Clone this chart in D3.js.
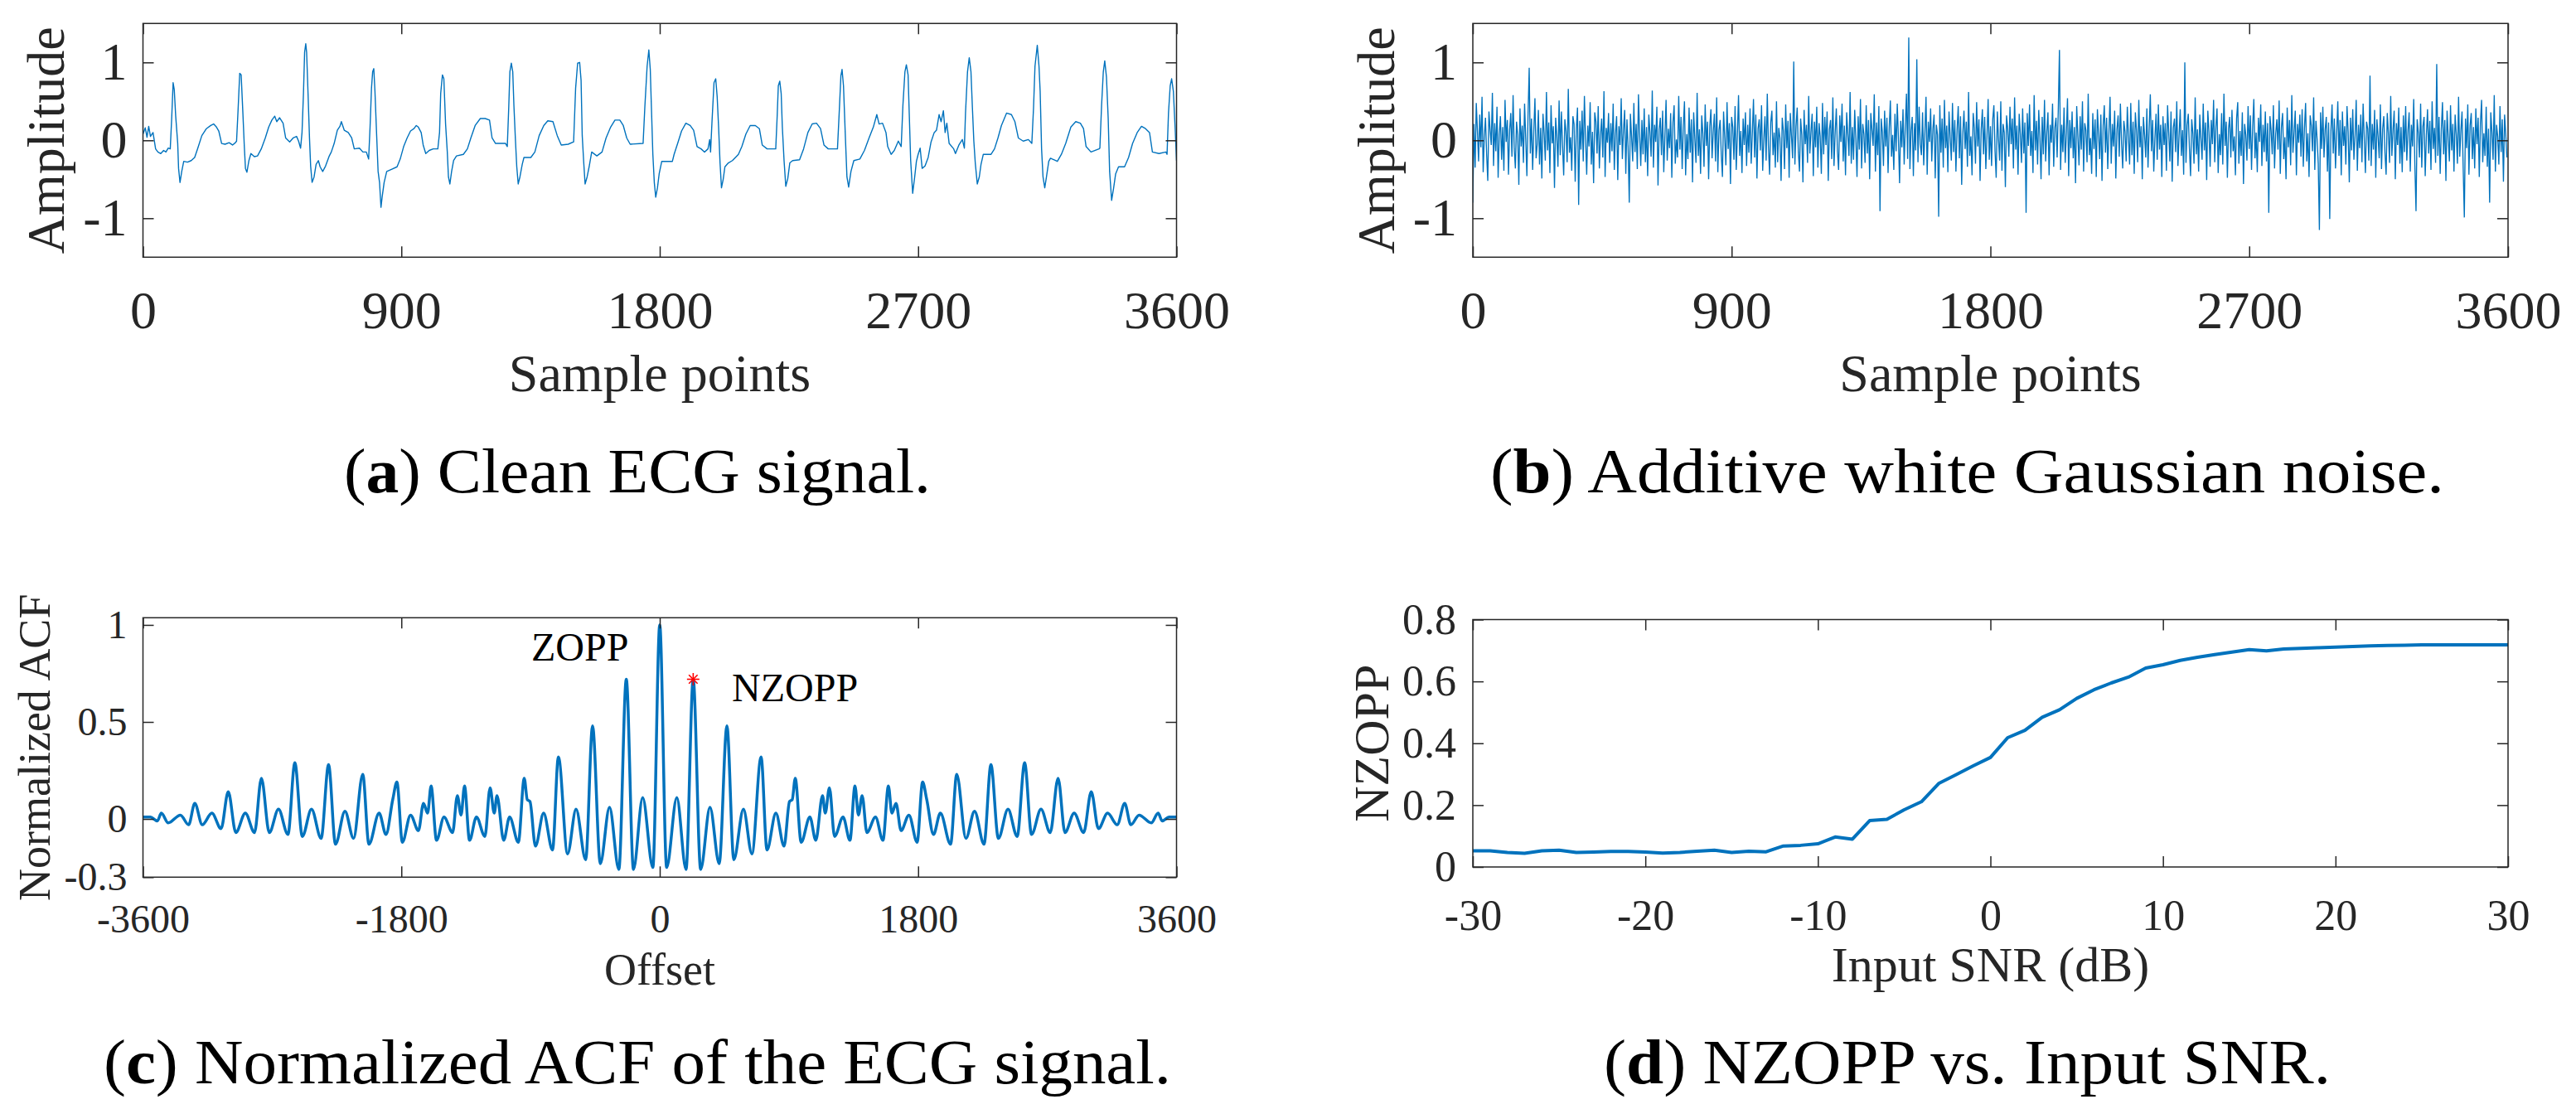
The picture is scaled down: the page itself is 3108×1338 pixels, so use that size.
<!DOCTYPE html>
<html><head><meta charset="utf-8">
<script src="https://cdn.jsdelivr.net/npm/d3@7/dist/d3.min.js"></script>
<style>
body{margin:0;background:#fff}
svg{display:block}
</style>
</head><body>
<svg id="fig" width="3108" height="1338"></svg>
<script>
// ---------------- DATA ----------------
// (a) clean ECG: [sample, amplitude] vertices
const ecgPoints = [[0,0.08],[8,0.16],[14,0.04],[20,0.18],[26,0.05],[35,0.1],[44,-0.11],[52,-0.15],[62,-0.17],[72,-0.13],[80,-0.15],[88,-0.1],[95,-0.11],[100,0.28],[105,0.74],[109,0.65],[114,0.31],[121,-0.04],[124,-0.36],[129,-0.54],[135,-0.40],[142,-0.27],[155,-0.28],[168,-0.26],[180,-0.22],[191,-0.1],[205,0.06],[221,0.15],[236,0.19],[246,0.21],[256,0.17],[264,0.12],[274,-0.04],[286,-0.05],[300,-0.03],[312,-0.06],[322,-0.03],[326,-0.01],[331,0.37],[337,0.86],[342,0.84],[348,0.35],[353,-0.08],[357,-0.36],[362,-0.41],[369,-0.26],[376,-0.17],[388,-0.21],[399,-0.2],[412,-0.11],[426,0.03],[438,0.17],[449,0.26],[459,0.31],[466,0.24],[476,0.29],[488,0.22],[497,0.03],[511,-0.02],[523,0.03],[535,0.05],[542,-0.01],[549,-0.1],[554,0.10],[559,0.6],[563,1.13],[567,1.24],[570,1.13],[575,0.6],[580,0.03],[584,-0.33],[589,-0.54],[596,-0.47],[603,-0.31],[611,-0.26],[617,-0.34],[626,-0.4],[636,-0.33],[649,-0.2],[656,-0.15],[666,-0.04],[677,0.13],[686,0.18],[691,0.24],[701,0.13],[715,0.1],[727,0.03],[736,-0.11],[754,-0.1],[766,-0.15],[778,-0.15],[786,-0.24],[791,0.17],[796,0.67],[800,0.88],[804,0.92],[808,0.63],[814,0.06],[819,-0.4],[824,-0.54],[829,-0.86],[833,-0.73],[840,-0.54],[849,-0.4],[867,-0.37],[885,-0.34],[896,-0.24],[908,-0.08],[920,0.03],[932,0.12],[944,0.15],[952,0.19],[959,0.17],[969,0.1],[976,-0.06],[985,-0.17],[997,-0.13],[1011,-0.11],[1027,-0.11],[1033,0.1],[1037,0.6],[1043,0.84],[1048,0.79],[1054,0.21],[1060,-0.15],[1064,-0.47],[1069,-0.56],[1075,-0.4],[1082,-0.26],[1092,-0.2],[1116,-0.18],[1130,-0.11],[1142,0.03],[1157,0.19],[1175,0.28],[1192,0.28],[1207,0.26],[1216,0.03],[1228,-0.04],[1263,-0.04],[1269,-0.08],[1274,0.42],[1278,0.88],[1283,0.99],[1288,0.88],[1292,0.45],[1297,0.03],[1302,-0.34],[1307,-0.56],[1313,-0.47],[1321,-0.31],[1327,-0.22],[1351,-0.22],[1365,-0.15],[1380,0.06],[1396,0.19],[1410,0.25],[1428,0.24],[1443,0.06],[1457,-0.06],[1481,-0.05],[1500,-0.02],[1507,0.67],[1514,0.99],[1521,1.0],[1526,0.77],[1530,0.06],[1535,-0.27],[1540,-0.56],[1547,-0.47],[1554,-0.34],[1563,-0.15],[1581,-0.2],[1599,-0.15],[1613,0.03],[1629,0.17],[1644,0.26],[1661,0.26],[1673,0.19],[1685,0.03],[1697,-0.05],[1742,-0.04],[1748,0.42],[1756,0.95],[1762,1.16],[1767,0.91],[1771,0.42],[1776,-0.18],[1781,-0.54],[1786,-0.73],[1792,-0.61],[1798,-0.43],[1807,-0.27],[1844,-0.27],[1850,-0.18],[1864,-0.02],[1876,0.12],[1891,0.22],[1906,0.19],[1918,0.13],[1930,-0.08],[1944,-0.11],[1956,-0.15],[1968,-0.11],[1974,0.01],[1977,-0.15],[1982,0.24],[1989,0.74],[1995,0.79],[2000,0.56],[2005,0.17],[2010,-0.29],[2015,-0.61],[2021,-0.5],[2027,-0.34],[2039,-0.29],[2053,-0.26],[2074,-0.18],[2086,-0.08],[2100,0.08],[2115,0.19],[2133,0.19],[2147,0.15],[2157,-0.06],[2174,-0.11],[2204,-0.11],[2209,0.31],[2213,0.7],[2218,0.76],[2223,0.6],[2227,0.17],[2233,-0.26],[2239,-0.59],[2246,-0.49],[2253,-0.29],[2263,-0.26],[2287,-0.25],[2301,-0.11],[2316,0.1],[2331,0.21],[2346,0.22],[2360,0.15],[2372,-0.06],[2387,-0.11],[2419,-0.11],[2425,0.35],[2431,0.83],[2435,0.91],[2440,0.7],[2446,0.1],[2452,-0.47],[2458,-0.6],[2466,-0.4],[2476,-0.26],[2497,-0.24],[2513,-0.13],[2529,0.03],[2544,0.17],[2556,0.33],[2564,0.21],[2576,0.22],[2588,0.1],[2594,-0.08],[2606,-0.18],[2617,-0.13],[2631,-0.01],[2641,-0.08],[2647,0.45],[2654,0.88],[2659,0.97],[2665,0.84],[2669,0.35],[2674,-0.26],[2681,-0.68],[2688,-0.47],[2694,-0.27],[2700,-0.18],[2707,-0.1],[2714,-0.36],[2724,-0.33],[2735,-0.22],[2745,-0.02],[2756,0.1],[2764,0.13],[2773,0.33],[2780,0.24],[2788,0.38],[2794,0.1],[2800,0.22],[2808,-0.04],[2824,-0.11],[2830,-0.17],[2842,-0.06],[2854,0.01],[2861,-0.1],[2865,0.35],[2872,0.88],[2878,1.06],[2884,0.88],[2889,0.42],[2894,-0.01],[2899,-0.29],[2906,-0.56],[2913,-0.47],[2919,-0.31],[2927,-0.18],[2954,-0.18],[2966,-0.11],[2978,0.03],[2990,0.19],[3008,0.35],[3025,0.33],[3037,0.24],[3049,0.03],[3066,-0.01],[3084,0.01],[3096,-0.04],[3102,0.42],[3107,0.95],[3115,1.22],[3121,0.95],[3125,0.63],[3130,-0.11],[3135,-0.47],[3141,-0.61],[3147,-0.47],[3155,-0.27],[3161,-0.23],[3185,-0.27],[3199,-0.18],[3214,-0.04],[3232,0.17],[3249,0.24],[3265,0.22],[3276,0.15],[3285,-0.08],[3302,-0.15],[3330,-0.11],[3333,-0.1],[3339,0.45],[3345,0.88],[3350,1.02],[3356,0.81],[3362,0.28],[3367,-0.4],[3374,-0.77],[3381,-0.61],[3388,-0.43],[3398,-0.34],[3419,-0.34],[3433,-0.22],[3447,-0.04],[3463,0.1],[3478,0.18],[3492,0.15],[3506,0.1],[3516,-0.15],[3539,-0.17],[3563,-0.15],[3567,-0.18],[3572,0.35],[3578,0.7],[3583,0.79],[3589,0.63],[3595,0.17],[3600,-0.26]];

// (b) additive white Gaussian noise: one value every 4 samples
const noiseStep = 4;
const noiseValues = [
-0.80,0.21,-0.35,0.48,0.12,-0.27,0.33,-0.09,0.56,-0.41,0.05,0.29,-0.18,-0.52,0.37,0.14,-0.06,0.61,-0.33,0.22,-0.14,0.43,-0.48,0.08,0.31,-0.25,0.17,-0.39,0.52,-0.02,
0.26,-0.44,0.13,0.35,-0.21,0.58,-0.11,-0.36,0.24,0.07,-0.57,0.41,-0.08,0.19,-0.29,0.47,0.02,-0.46,0.32,0.93,-0.17,0.28,-0.38,0.11,0.54,-0.23,-0.05,0.39,-0.31,0.16,
-0.49,0.34,0.09,-0.26,0.62,-0.13,0.23,-0.42,0.45,-0.04,0.18,-0.61,0.29,0.06,-0.34,0.51,-0.19,0.37,-0.07,-0.45,0.27,0.12,-0.28,0.66,-0.16,0.04,-0.39,0.31,0.21,-0.53,
0.15,0.42,-0.83,0.25,-0.12,0.38,-0.27,0.57,0.03,-0.44,0.19,-0.08,0.49,-0.31,0.11,-0.55,0.36,0.24,-0.17,0.44,-0.36,0.07,0.28,-0.22,0.63,-0.47,0.16,-0.03,0.35,-0.29,
0.22,-0.14,0.47,-0.38,0.09,0.31,-0.51,0.18,-0.06,0.54,-0.24,0.13,0.39,-0.43,0.27,-0.09,-0.80,0.34,0.05,-0.27,0.48,-0.15,0.21,-0.37,0.59,0.08,-0.33,0.26,-0.18,0.41,
-0.28,0.17,-0.46,0.33,0.1,-0.21,0.64,-0.35,0.2,-0.02,0.43,-0.58,0.14,0.29,-0.19,0.38,-0.41,0.06,0.52,-0.26,0.15,-0.1,0.35,-0.48,0.23,0.45,-0.3,0.01,-0.22,0.57,
-0.12,0.3,-0.37,0.19,0.5,-0.45,0.08,-0.24,0.42,-0.16,0.27,-0.54,0.36,0.03,-0.29,0.61,-0.2,0.14,-0.43,0.32,0.09,-0.34,0.46,-0.07,0.24,-0.5,0.18,0.4,-0.23,0.11,
0.34,-0.27,0.55,-0.41,0.13,0.26,-0.18,-0.47,0.37,0.04,-0.32,0.49,-0.11,0.22,-0.56,0.3,0.17,-0.25,0.44,-0.38,0.07,0.58,-0.2,0.12,-0.42,0.28,-0.06,0.36,-0.33,0.2,
-0.16,0.41,-0.3,0.09,0.53,-0.22,0.33,-0.49,0.15,0.27,-0.13,0.45,-0.39,0.02,0.31,-0.26,0.6,-0.08,-0.44,0.23,0.38,-0.19,0.1,-0.35,0.5,-0.28,0.16,0.03,-0.52,0.29,
0.12,-0.37,0.46,-0.1,0.25,-0.48,0.35,0.06,-0.23,1.01,-0.31,0.18,0.42,-0.15,-0.4,0.28,0.07,-0.54,0.39,-0.05,0.2,-0.29,0.57,-0.17,0.11,0.34,-0.46,0.24,-0.09,0.43,
-0.35,0.22,0.05,-0.43,0.48,-0.18,0.3,-0.06,0.37,-0.52,0.14,0.26,-0.24,0.55,-0.33,0.09,0.41,-0.14,-0.38,0.32,-0.02,0.47,-0.27,0.19,-0.45,0.36,0.08,-0.2,0.62,-0.3,
0.17,-0.25,0.39,0.02,-0.47,0.31,-0.12,0.53,-0.36,0.21,0.08,-0.29,0.45,-0.17,0.26,-0.5,0.35,0.13,-0.07,0.59,-0.4,0.23,-0.19,0.44,-0.91,0.28,0.11,-0.33,0.38,-0.08,
0.29,-0.42,0.16,0.51,-0.21,0.07,-0.38,0.34,-0.14,0.47,0.03,-0.55,0.25,-0.09,0.4,-0.31,0.18,0.6,-0.24,1.32,-0.37,0.12,0.3,-0.46,0.22,-0.13,1.04,-0.28,0.43,-0.05,
-0.19,0.36,-0.32,0.1,0.56,-0.44,0.24,-0.02,0.41,-0.27,0.15,0.33,-0.49,0.2,0.07,-0.98,0.45,-0.16,0.28,-0.35,0.52,-0.1,0.19,-0.41,0.37,0.04,-0.26,0.48,-0.15,0.26,
-0.4,0.13,0.44,-0.23,0.31,-0.57,0.09,0.38,-0.11,0.24,-0.34,0.62,-0.2,0.05,-0.45,0.35,0.16,-0.3,0.49,-0.08,0.27,-0.52,0.14,0.4,-0.18,0.3,-0.37,0.06,0.53,-0.25,
0.18,-0.33,0.27,0.45,-0.14,-0.48,0.37,0.02,-0.26,0.5,-0.39,0.21,0.1,-0.6,0.32,0.15,-0.21,0.43,-0.05,0.28,-0.36,0.55,-0.12,0.19,-0.44,0.34,0.08,-0.29,0.41,-0.17,
0.23,-0.93,0.35,-0.07,0.46,-0.2,0.12,-0.42,0.58,-0.13,0.25,-0.31,0.39,0.04,-0.5,0.3,-0.18,0.52,-0.27,0.11,0.36,-0.45,0.2,-0.03,0.47,-0.34,0.16,0.29,-0.22,0.4,
1.16,-0.38,0.2,-0.15,0.42,-0.29,0.09,0.54,-0.46,0.26,-0.1,0.37,-0.23,0.17,-0.55,0.44,0.06,-0.32,0.31,-0.12,0.5,-0.4,0.22,0.13,-0.28,0.6,-0.19,0.03,-0.43,0.35,
-0.11,0.27,-0.47,0.4,0.08,-0.24,0.33,-0.52,0.19,0.45,-0.16,0.29,-0.37,0.1,0.56,-0.3,0.21,-0.08,0.38,-0.49,0.14,0.32,-0.21,0.47,-0.04,-0.36,0.25,0.11,-0.27,0.43,
0.05,-0.31,0.48,-0.19,0.24,-0.43,0.36,0.12,-0.28,0.52,-0.09,0.18,-0.5,0.3,0.07,-0.22,0.41,-0.35,0.15,0.59,-0.14,0.26,-0.4,0.03,0.34,-0.25,0.46,-0.12,0.2,-0.47,
0.31,-0.06,0.22,-0.39,0.45,0.1,-0.27,0.37,-0.53,0.16,0.28,-0.15,0.5,-0.33,0.06,0.4,-0.2,0.13,-0.44,1.0,-0.29,0.19,0.34,-0.1,-0.46,0.27,0.09,-0.3,0.55,-0.18,
0.14,-0.4,0.33,0.02,-0.25,0.47,-0.13,0.23,-0.51,0.38,0.11,-0.34,0.26,-0.05,0.52,-0.28,0.17,0.41,-0.42,0.08,-0.19,0.35,-0.31,0.6,-0.07,0.24,-0.48,0.15,0.3,-0.22,
0.39,-0.14,0.05,-0.45,0.28,0.49,-0.3,0.12,-0.2,0.36,-0.56,0.21,0.07,-0.26,0.44,-0.11,0.32,-0.38,0.18,0.53,-0.23,0.1,-0.41,0.29,-0.02,0.46,-0.33,0.2,-0.15,0.37,
-0.27,0.22,-0.93,0.31,0.13,-0.18,0.45,-0.36,0.08,0.27,-0.12,0.51,-0.43,0.17,0.35,-0.24,0.04,-0.5,0.42,-0.09,0.26,-0.32,0.58,-0.16,0.1,0.38,-0.45,0.21,-0.03,0.33,
-0.21,0.4,-0.34,0.16,0.48,-0.27,0.09,-0.47,0.32,0.19,-0.14,0.55,-0.38,0.25,0.02,-0.3,-1.15,0.36,-0.11,0.43,-0.22,0.14,0.3,-0.4,0.23,-1.01,0.12,0.46,-0.17,0.28,
-0.36,0.08,0.5,-0.2,0.26,-0.45,0.37,-0.07,0.18,-0.31,0.44,0.11,-0.54,0.29,-0.13,0.4,-0.25,0.06,0.52,-0.39,0.2,-0.1,0.33,-0.28,0.47,0.03,-0.42,0.24,0.15,-0.26,
0.83,-0.33,0.21,-0.12,0.39,-0.48,0.27,0.05,-0.23,0.46,-0.37,0.15,0.31,-0.16,-0.44,0.35,0.09,-0.29,0.57,-0.2,0.13,0.38,-0.5,0.22,-0.06,0.42,-0.3,0.17,-0.41,0.32,
-0.15,0.44,-0.26,0.12,0.36,-0.4,0.2,-0.08,0.53,-0.32,-0.91,0.27,0.1,-0.22,0.47,-0.35,0.18,0.3,-0.46,0.06,0.4,-0.17,0.25,-0.38,0.5,-0.11,0.16,-0.29,0.98,-0.2,
0.3,-0.43,0.14,0.49,-0.18,0.26,-0.52,0.38,0.04,-0.27,0.45,-0.13,0.21,-0.4,0.33,0.08,-0.3,0.56,-0.21,0.12,0.37,-0.35,-0.99,0.28,-0.1,0.46,-0.44,0.19,0.35,-0.24,
0.17,-0.36,0.41,-0.05,0.29,-0.47,0.22,0.52,-0.28,0.09,-0.2,0.43,-0.34,0.15,-0.8,0.36,0.11,-0.25,0.58,-0.4,0.2,0.05,-0.31,0.44,-0.15,0.27,-0.53,0.33,0.08,-0.22
];

// (c) normalized ACF, non-negative offsets (the ACF is symmetric): [offset, value]
const acfHalf = [[0,1.0],[48,-0.25],[119,0.11],[183,-0.26],[233,0.72],[285,-0.26],[350,0.06],[414,-0.23],[468,0.48],[516,-0.21],[583,0.05],[642,-0.18],[706,0.32],[747,-0.16],[809,0.03],[866,-0.14],[904,0.09],[923,0.10],[944,0.21],[985,-0.12],[1046,0.01],[1087,-0.11],[1134,0.12],[1153,0.03],[1182,0.16],[1218,-0.09],[1277,0.01],[1325,-0.11],[1360,0.17],[1384,0.02],[1410,0.12],[1443,-0.07],[1503,0.01],[1555,-0.11],[1593,0.17],[1617,0.03],[1646,0.08],[1681,-0.06],[1736,0.02],[1793,-0.12],[1831,0.19],[1860,0.10],[1907,-0.08],[1955,0.03],[2026,-0.13],[2069,0.23],[2133,-0.10],[2193,0.04],[2259,-0.13],[2307,0.28],[2359,-0.10],[2426,0.05],[2490,-0.09],[2542,0.29],[2590,-0.08],[2656,0.05],[2720,-0.07],[2775,0.21],[2823,-0.07],[2887,0.03],[2953,-0.07],[3006,0.14],[3056,-0.05],[3120,0.03],[3187,-0.03],[3239,0.08],[3282,-0.03],[3339,0.02],[3424,-0.02],[3472,0.03],[3500,-0.01],[3548,0.01],[3599,0.01]];
const nzoppPoint = [233, 0.72];
const acfAnnotations = [{text:"ZOPP", x:-895, y:0.817},{text:"NZOPP", x:503, y:0.608}];

// (d) NZOPP vs input SNR
const snrDb = [-30,-29,-28,-27,-26,-25,-24,-23,-22,-21,-20,-19,-18,-17,-16,-15,-14,-13,-12,-11,-10,-9,-8,-7,-6,-5,-4,-3,-2,-1,0,1,2,3,4,5,6,7,8,9,10,11,12,13,14,15,16,17,18,19,20,21,22,23,24,25,26,27,28,29,30];
const nzoppValues = [0.052,0.052,0.047,0.044,0.052,0.054,0.047,0.048,0.050,0.050,0.048,0.045,0.047,0.051,0.054,0.047,0.051,0.049,0.068,0.070,0.075,0.097,0.090,0.150,0.154,0.185,0.211,0.270,0.298,0.327,0.354,0.418,0.442,0.484,0.508,0.545,0.573,0.595,0.614,0.643,0.654,0.668,0.678,0.687,0.695,0.703,0.699,0.705,0.707,0.709,0.711,0.713,0.715,0.716,0.717,0.718,0.718,0.718,0.718,0.718,0.718];

// tick values / labels
const sampleTicks = [0,900,1800,2700,3600];
const sampleTickLabels = ["0","900","1800","2700","3600"];
const ampTicks = [-1,0,1];
const ampTickLabels = ["-1","0","1"];
const offsetTicks = [-3600,-1800,0,1800,3600];
const offsetTickLabels = ["-3600","-1800","0","1800","3600"];
const acfTicks = [-0.3,0,0.5,1];
const acfTickLabels = ["-0.3","0","0.5","1"];
const snrTicks = [-30,-20,-10,0,10,20,30];
const snrTickLabels = ["-30","-20","-10","0","10","20","30"];
const nzTicks = [0,0.2,0.4,0.6,0.8];
const nzTickLabels = ["0","0.2","0.4","0.6","0.8"];

// ---------------- DRAWING ----------------
const FONT = '"Liberation Serif","Times New Roman",serif';
const AX = '#262626';
const BLUE = '#0072BD';
const svg = d3.select('#fig');
svg.append('rect').attr('width',3108).attr('height',1338).attr('fill','#fff');

let clipId = 0;
function panel(cfg) {
  const x = d3.scaleLinear().domain(cfg.xDomain).range([cfg.box.x0, cfg.box.x1]);
  const y = d3.scaleLinear().domain(cfg.yDomain).range([cfg.box.y1, cfg.box.y0]);
  const g = svg.append('g');
  const id = 'clip' + (clipId++);
  g.append('clipPath').attr('id', id).append('rect')
    .attr('x', cfg.box.x0).attr('y', cfg.box.y0)
    .attr('width', cfg.box.x1 - cfg.box.x0).attr('height', cfg.box.y1 - cfg.box.y0);
  const plot = g.append('g').attr('clip-path', `url(#${id})`);

  const mk = (axis, tr, fmt, pad) => {
    const a = g.append('g').attr('transform', tr)
      .call(axis.tickSizeInner(-13).tickSizeOuter(0).tickPadding(pad).tickFormat(fmt));
    a.select('.domain').remove();
    a.attr('font-size', cfg.tickFont).attr('font-family', FONT).attr('color', AX);
    a.selectAll('.tick line').attr('stroke-width', 1.5);
    return a;
  };
  mk(d3.axisBottom(x).tickValues(cfg.xTicks), `translate(0,${cfg.box.y1})`, (d,i)=>cfg.xTickLabels[i], cfg.xPad);
  mk(d3.axisTop(x).tickValues(cfg.xTicks), `translate(0,${cfg.box.y0})`, ()=>'', 0);
  mk(d3.axisLeft(y).tickValues(cfg.yTicks), `translate(${cfg.box.x0},0)`, (d,i)=>cfg.yTickLabels[i], cfg.yPad);
  mk(d3.axisRight(y).tickValues(cfg.yTicks), `translate(${cfg.box.x1},0)`, ()=>'', 0);
  g.append('rect').attr('x', cfg.box.x0).attr('y', cfg.box.y0)
    .attr('width', cfg.box.x1 - cfg.box.x0).attr('height', cfg.box.y1 - cfg.box.y0)
    .attr('fill','none').attr('stroke', AX).attr('stroke-width', 1.5);

  // axis labels
  g.append('text').attr('x', (cfg.box.x0+cfg.box.x1)/2).attr('y', cfg.xLabelY)
    .attr('text-anchor','middle').attr('font-family',FONT).attr('font-size',cfg.labelFont)
    .attr('fill',AX).text(cfg.xLabel);
  g.append('text').attr('transform', `translate(${cfg.yLabelX},${(cfg.box.y0+cfg.box.y1)/2}) rotate(-90)`)
    .attr('text-anchor','middle').attr('font-family',FONT).attr('font-size',cfg.yLabelFont || cfg.labelFont)
    .attr('fill',AX).text(cfg.yLabel);

  // caption
  const cap = svg.append('text').attr('x', cfg.caption.x0).attr('y', cfg.caption.y)
    .attr('font-family',FONT).attr('font-size',76).attr('fill','#000')
    .attr('textLength', cfg.caption.x1 - cfg.caption.x0).attr('lengthAdjust','spacingAndGlyphs');
  cap.append('tspan').text('(');
  cap.append('tspan').attr('font-weight','bold').text(cfg.caption.letter);
  cap.append('tspan').text(') ' + cfg.caption.text);
  return {x, y, plot, g};
}

// (a)
const A = panel({
  box:{x0:172.5,x1:1419.5,y0:28.3,y1:310.3},
  xDomain:[0,3600], yDomain:[-1.5,1.5],
  xTicks:sampleTicks, xTickLabels:sampleTickLabels, yTicks:ampTicks, yTickLabels:ampTickLabels,
  tickFont:64, xPad:40, yPad:19, labelFont:64,
  xLabel:'Sample points', xLabelY:472, yLabel:'Amplitude', yLabelX:77,
  caption:{x0:415,x1:1123,y:594,letter:'a',text:'Clean ECG signal.'}
});
A.plot.append('path').datum(ecgPoints)
  .attr('d', d3.line().x(d=>A.x(d[0])).y(d=>A.y(d[1])))
  .attr('fill','none').attr('stroke',BLUE).attr('stroke-width',1.4).attr('stroke-linejoin','round');

// (b)
const B = panel({
  box:{x0:1777,x1:3026,y0:28.3,y1:310.3},
  xDomain:[0,3600], yDomain:[-1.5,1.5],
  xTicks:sampleTicks, xTickLabels:sampleTickLabels, yTicks:ampTicks, yTickLabels:ampTickLabels,
  tickFont:64, xPad:40, yPad:19, labelFont:64,
  xLabel:'Sample points', xLabelY:472, yLabel:'Amplitude', yLabelX:1682,
  caption:{x0:1798,x1:2949,y:594,letter:'b',text:'Additive white Gaussian noise.'}
});
B.plot.append('path').datum(noiseValues)
  .attr('d', d3.line().x((d,i)=>B.x(i*noiseStep)).y(d=>B.y(d)))
  .attr('fill','none').attr('stroke',BLUE).attr('stroke-width',1.35);

// (c)
const C = panel({
  box:{x0:172.5,x1:1419.5,y0:745.3,y1:1058.3},
  xDomain:[-3600,3600], yDomain:[-0.3,1.037],
  xTicks:offsetTicks, xTickLabels:offsetTickLabels, yTicks:acfTicks, yTickLabels:acfTickLabels,
  tickFont:48, xPad:33, yPad:19, labelFont:54,
  xLabel:'Offset', xLabelY:1188, yLabel:'Normalized ACF', yLabelX:60,
  caption:{x0:125,x1:1413,y:1307,letter:'c',text:'Normalized ACF of the ECG signal.'}
});
const acfFull = acfHalf.slice(1).map(d=>[-d[0], d[1]]).reverse().concat(acfHalf);
C.plot.append('path').datum(acfFull)
  .attr('d', d3.line().curve(d3.curveMonotoneX).x(d=>C.x(d[0])).y(d=>C.y(d[1])))
  .attr('fill','none').attr('stroke',BLUE).attr('stroke-width',3.5).attr('stroke-linejoin','round');
const ax = C.x(nzoppPoint[0]), ay = C.y(nzoppPoint[1]), r = 7.5;
const star = C.g.append('g').attr('stroke','#FF0000').attr('stroke-width',1.6);
[[0,-r,0,r],[-r,0,r,0],[-r*0.7,-r*0.7,r*0.7,r*0.7],[-r*0.7,r*0.7,r*0.7,-r*0.7]].forEach(s=>{
  star.append('line').attr('x1',ax+s[0]).attr('y1',ay+s[1]).attr('x2',ax+s[2]).attr('y2',ay+s[3]);
});
C.g.selectAll('.ann').data(acfAnnotations).enter().append('text')
  .attr('x', d=>C.x(d.x)).attr('y', d=>C.y(d.y))
  .attr('font-family',FONT).attr('font-size',48).attr('fill','#000').text(d=>d.text);

// (d)
const D = panel({
  box:{x0:1777,x1:3026,y0:747.5,y1:1046},
  xDomain:[-30,30], yDomain:[0,0.8],
  xTicks:snrTicks, xTickLabels:snrTickLabels, yTicks:nzTicks, yTickLabels:nzTickLabels,
  tickFont:52, xPad:39, yPad:20, labelFont:60,
  xLabel:'Input SNR (dB)', xLabelY:1184, yLabel:'NZOPP', yLabelX:1675,
  caption:{x0:1935,x1:2812,y:1307,letter:'d',text:'NZOPP vs. Input SNR.'}
});
D.plot.append('path').datum(snrDb.map((s,i)=>[s, nzoppValues[i]]))
  .attr('d', d3.line().x(d=>D.x(d[0])).y(d=>D.y(d[1])))
  .attr('fill','none').attr('stroke',BLUE).attr('stroke-width',4).attr('stroke-linejoin','round');
</script>
</body></html>
